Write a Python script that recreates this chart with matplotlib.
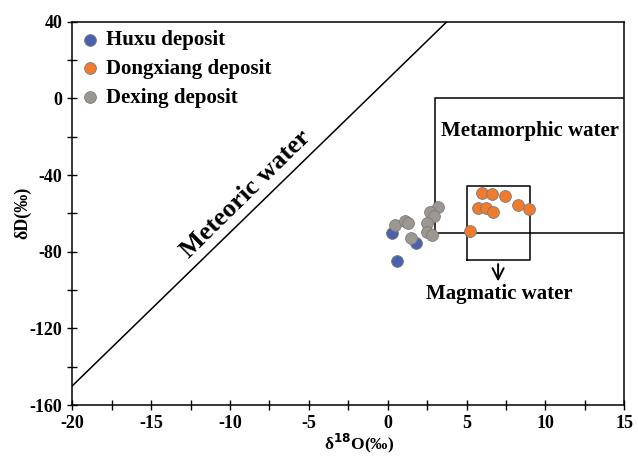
import numpy as np
import matplotlib.pyplot as plt
from matplotlib.ticker import MultipleLocator

# data (d18O, dD in permil)
huxu_o = [0.25, 1.78, 0.57]
huxu_d = [-70.4, -75.3, -84.8]

dongxiang_o = [5.96, 6.63, 7.44, 8.28, 8.98, 5.75, 6.23, 6.66, 5.24]
dongxiang_d = [-49.5, -50.1, -51.1, -55.8, -57.5, -57.4, -57.4, -59.1, -69.0]

dexing_o = [0.46, 1.10, 1.31, 1.46, 3.21, 2.68, 2.94, 2.51, 2.47, 2.79]
dexing_d = [-66.1, -63.8, -65.2, -72.8, -56.8, -59.1, -61.2, -64.8, -69.5, -71.3]

# reference fields
meteoric_x = [-20, 15]
metamorphic_box = (3, 20, -70, 0)      # x0, x1, y0, y1
magmatic_box = (5, 9, -84.3, -45.7)

plt.rcParams['font.family'] = ['Liberation Serif', 'DejaVu Serif']
plt.rcParams['font.weight'] = 'bold'
plt.rcParams['axes.unicode_minus'] = False

fig = plt.figure(figsize=(6.38, 4.59), dpi=100)
ax = fig.add_axes([0.1133, 0.1176, 0.8652, 0.8351])

# meteoric water line dD = 8 d18O + 10
mx = np.array(meteoric_x)
ax.plot(mx, 8 * mx + 10, color='black', lw=1.1)

x0, x1, y0, y1 = metamorphic_box
ax.plot([x1, x0, x0, x1], [y1, y1, y0, y0], color='black', lw=1.1)
x0, x1, y0, y1 = magmatic_box
ax.plot([x0, x1, x1, x0, x0], [y0, y0, y1, y1, y0], color='black', lw=1.1)

ax.annotate('', xy=(7.0, -97), xytext=(7.0, -85),
            arrowprops=dict(arrowstyle='->', color='black', lw=1.4, mutation_scale=20))

edge = '#7a7a7a'
ax.scatter(huxu_o, huxu_d, s=72, color='#4a62ad', edgecolor=edge, lw=0.6,
           label='Huxu deposit', zorder=3)
ax.scatter(dongxiang_o, dongxiang_d, s=72, color='#f07b2c', edgecolor=edge, lw=0.6,
           label='Dongxiang deposit', zorder=3)
ax.scatter(dexing_o, dexing_d, s=72, color='#9d9792', edgecolor=edge, lw=0.6,
           label='Dexing deposit', zorder=3)

ax.text(-9.0, -50, 'Meteoric water', rotation=44.5, ha='center', va='center',
        fontsize=19, fontweight='bold')
ax.text(9.0, -17, 'Metamorphic water', ha='center', va='center',
        fontsize=15, fontweight='bold')
ax.text(7.1, -102, 'Magmatic water', ha='center', va='center',
        fontsize=15, fontweight='bold')

ax.set_xlim(-20, 15)
ax.set_ylim(-160, 40)
ax.xaxis.set_major_locator(MultipleLocator(5))
ax.xaxis.set_minor_locator(MultipleLocator(2.5))
ax.yaxis.set_major_locator(MultipleLocator(40))
ax.yaxis.set_minor_locator(MultipleLocator(20))
ax.tick_params(which='both', direction='inout', length=7, width=1.0,
               labelsize=13, top=False, right=False)
for lab in ax.get_xticklabels() + ax.get_yticklabels():
    lab.set_fontweight('bold')
for sp in ax.spines.values():
    sp.set_linewidth(1.1)

ax.set_xlabel('δ$^{18}$O(‰)', fontsize=12.5, fontweight='bold')
ax.xaxis.set_label_coords(0.52, -0.07)
ax.set_ylabel('δD(‰)', fontsize=13, fontweight='bold')
ax.yaxis.set_label_coords(-0.075, 0.5)

ax.legend(loc='upper left', frameon=False, handletextpad=0.3,
          borderaxespad=0.1, labelspacing=0.42, handlelength=0.9,
          borderpad=0.3, prop={'weight': 'bold', 'size': 15})

fig.savefig('out.png', dpi=100)
